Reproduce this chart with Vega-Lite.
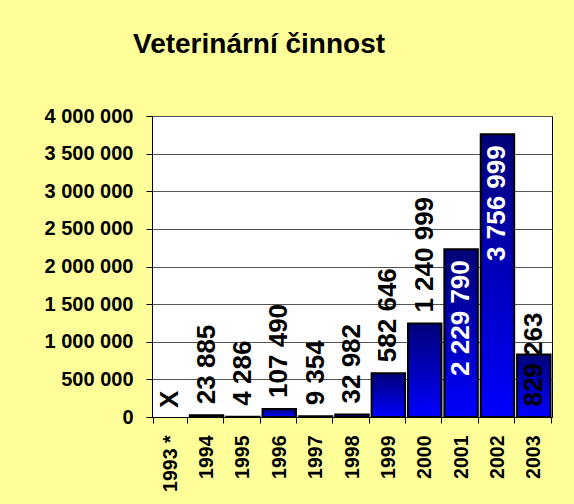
{
  "$schema": "https://vega.github.io/schema/vega-lite/v6.json",
  "width": 400,
  "height": 301,
  "autosize": {"type": "none"},
  "padding": {"left": 152, "top": 116, "right": 22, "bottom": 87},
  "background": "#FFFF99",
  "config": {
    "locale": {"number": {"decimal": ",", "thousands": " ", "grouping": [3], "currency": ["", " Kč"]}},
    "view": {"fill": "white", "stroke": "black", "strokeWidth": 1},
    "font": "Liberation Sans"
  },
  "title": {
    "text": "Veterinární činnost",
    "fontSize": 28,
    "fontWeight": "bold",
    "font": "Liberation Sans",
    "color": "black",
    "anchor": "start",
    "frame": "group",
    "dx": -19,
    "offset": 47
  },
  "data": {
    "values": [
      {"year": "1993 *", "value": null},
      {"year": "1994", "value": 23885},
      {"year": "1995", "value": 4286},
      {"year": "1996", "value": 107490},
      {"year": "1997", "value": 9354},
      {"year": "1998", "value": 32982},
      {"year": "1999", "value": 582646},
      {"year": "2000", "value": 1240999},
      {"year": "2001", "value": 2229790},
      {"year": "2002", "value": 3756999},
      {"year": "2003", "value": 829263}
    ]
  },
  "encoding": {
    "x": {
      "field": "year",
      "type": "nominal",
      "sort": null,
      "scale": {
        "domain": ["1993 *", "1994", "1995", "1996", "1997", "1998", "1999", "2000", "2001", "2002", "2003"],
        "paddingInner": 0.08,
        "paddingOuter": 0.04
      },
      "axis": {
        "title": null,
        "labelAngle": -90,
        "labelFontSize": 19.5,
        "labelFontWeight": "bold",
        "labelColor": "black",
        "labelFont": "Liberation Sans",
        "tickBand": "extent",
        "tickSize": 6,
        "tickColor": "black",
        "domainColor": "black",
        "labelPadding": 12,
        "grid": false
      }
    },
    "y": {
      "field": "value",
      "type": "quantitative",
      "scale": {"domain": [0, 4000000], "nice": false},
      "axis": {
        "title": null,
        "values": [0, 500000, 1000000, 1500000, 2000000, 2500000, 3000000, 3500000, 4000000],
        "format": ",d",
        "labelFontSize": 20,
        "labelFontWeight": "bold",
        "labelColor": "black",
        "labelFont": "Liberation Sans",
        "tickSize": 6,
        "tickColor": "black",
        "domainColor": "black",
        "gridColor": "#555555",
        "gridOpacity": 1,
        "labelPadding": 13
      }
    }
  },
  "layer": [
    {
      "mark": {
        "type": "bar",
        "fill": {
          "gradient": "linear",
          "x1": 0, "y1": 0, "x2": 0, "y2": 1,
          "stops": [
            {"offset": 0, "color": "#000078"},
            {"offset": 1, "color": "#0000FF"}
          ]
        },
        "stroke": "black",
        "strokeWidth": 2
      }
    },
    {
      "transform": [{"filter": "datum.value != null && indexof(['2001','2002','2003'], datum.year) < 0"}],
      "mark": {"type": "text", "angle": 270, "align": "left", "baseline": "middle", "dx": 11, "fontSize": 26, "fontWeight": "bold", "color": "black", "font": "Liberation Sans"},
      "encoding": {"text": {"field": "value", "type": "quantitative", "format": ",d"}}
    },
    {
      "transform": [{"filter": "datum.year == '2001' || datum.year == '2002'"}],
      "mark": {"type": "text", "angle": 270, "align": "right", "baseline": "middle", "dx": -11, "fontSize": 26, "fontWeight": "bold", "color": "white", "font": "Liberation Sans"},
      "encoding": {"text": {"field": "value", "type": "quantitative", "format": ",d"}}
    },
    {
      "transform": [{"filter": "datum.year == '2003'"}],
      "mark": {"type": "text", "angle": 270, "align": "center", "baseline": "middle", "dx": -5, "fontSize": 26, "fontWeight": "bold", "color": "black", "font": "Liberation Sans"},
      "encoding": {"text": {"field": "value", "type": "quantitative", "format": ",d"}}
    },
    {
      "data": {"values": [{"year": "1993 *", "note": "X", "base": 0}]},
      "mark": {"type": "text", "angle": 270, "align": "left", "baseline": "middle", "dx": 9, "fontSize": 26, "fontWeight": "bold", "color": "black", "font": "Liberation Sans"},
      "encoding": {
        "y": {"field": "base", "type": "quantitative"},
        "text": {"field": "note", "type": "nominal"}
      }
    }
  ]
}
